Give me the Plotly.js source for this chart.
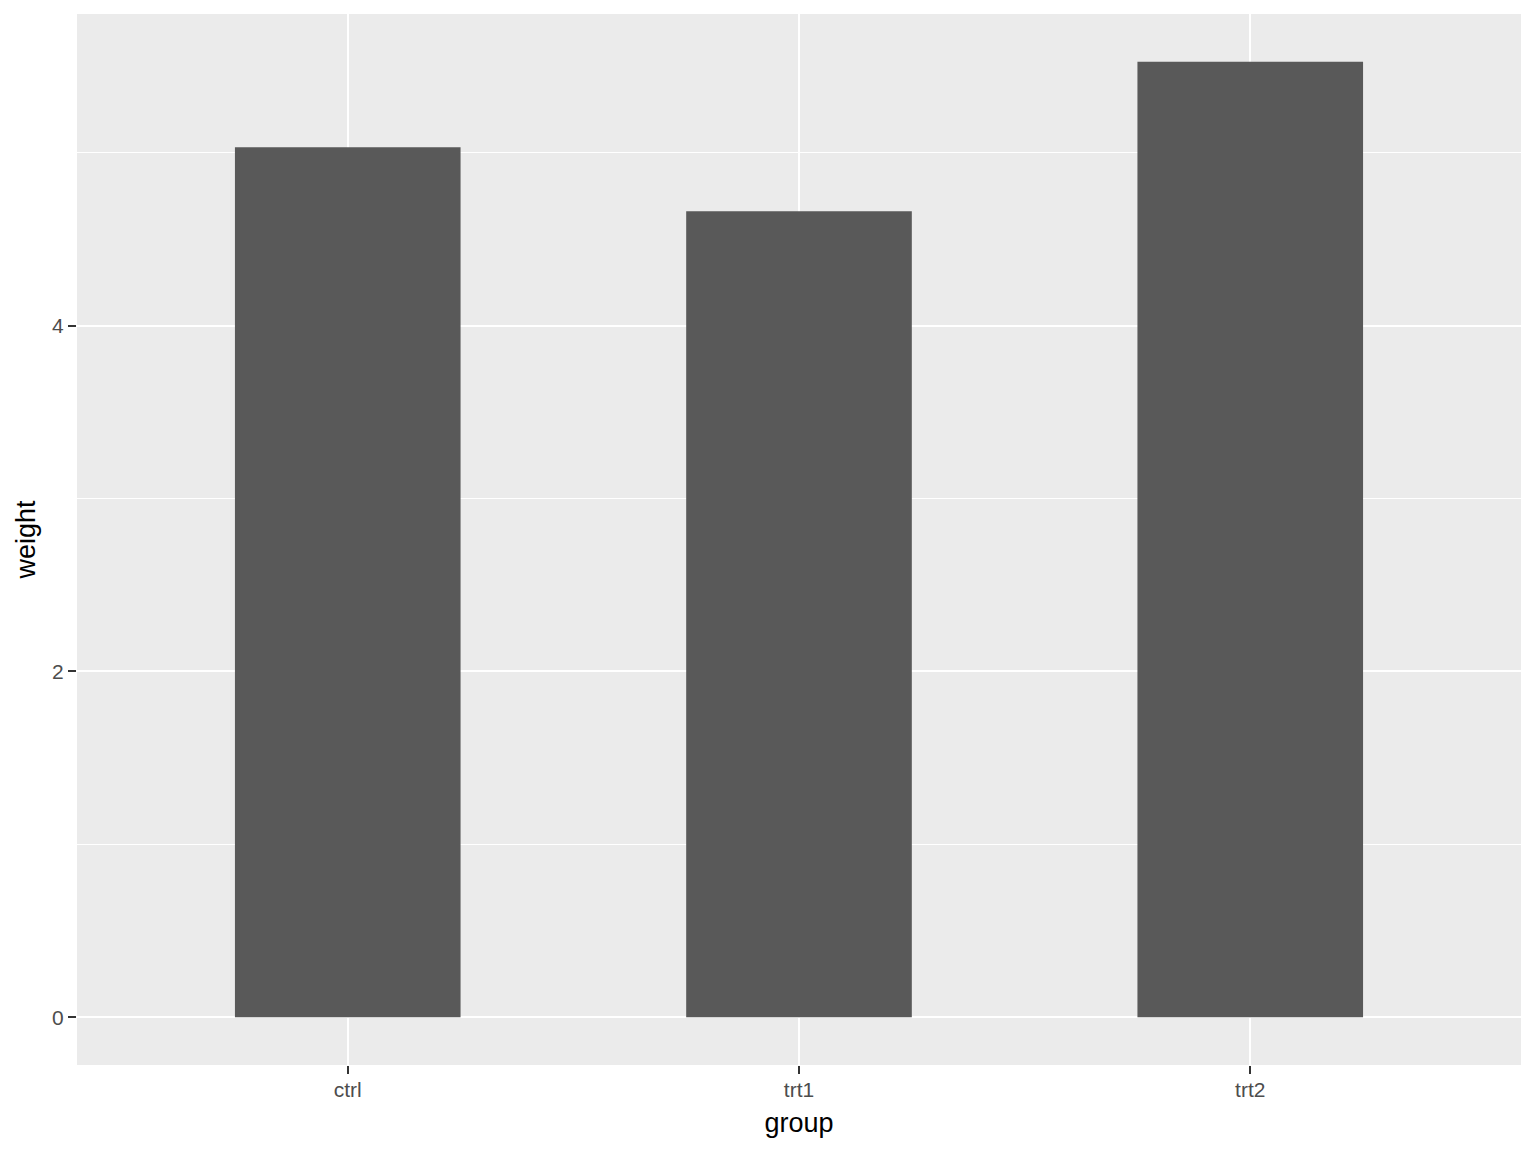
<!DOCTYPE html>
<html>
<head>
<meta charset="utf-8">
<script src="https://cdn.plot.ly/plotly-3.0.1.min.js"></script>
<style>html,body{margin:0;padding:0;background:#fff;}#chart{width:1536px;height:1152px;}</style>
</head>
<body>
<div id="chart"></div>
<script>
const groups = ["ctrl", "trt1", "trt2"];
const weights = [5.032, 4.661, 5.526];
const yTicks = [0, 2, 4];

const trace = {
  type: "bar",
  x: groups,
  y: weights,
  width: 0.5,
  marker: { color: "#595959", line: { width: 0 } },
  hoverinfo: "x+y"
};

const layout = {
  width: 1536,
  height: 1152,
  margin: { l: 77, r: 15, t: 14, b: 87 },
  paper_bgcolor: "#ffffff",
  plot_bgcolor: "#ebebeb",
  showlegend: false,
  font: { family: "Liberation Sans, Arial, sans-serif" },
  xaxis: {
    type: "category",
    range: [-0.6, 2.6],
    showgrid: true,
    gridcolor: "#ffffff",
    gridwidth: 2,
    zeroline: false,
    showline: false,
    ticks: "outside",
    ticklen: 8,
    tickwidth: 2,
    tickcolor: "#333333",
    ticklabelstandoff: -2,
    tickfont: { size: 21, color: "#4d4d4d" },
    title: { text: "group", font: { size: 27, color: "#000000" }, standoff: 12 }
  },
  yaxis: {
    range: [-0.2763, 5.8023],
    tickvals: yTicks,
    ticktext: yTicks.map(String),
    showgrid: true,
    gridcolor: "#ffffff",
    gridwidth: 2,
    zeroline: false,
    showline: false,
    ticks: "outside",
    ticklen: 8,
    tickwidth: 2,
    tickcolor: "#333333",
    tickfont: { size: 21, color: "#4d4d4d" },
    minor: { tickvals: [1, 3, 5], showgrid: true, gridcolor: "#ffffff", gridwidth: 1, ticks: "" },
    title: { text: "weight", font: { size: 27, color: "#000000" }, standoff: 8 }
  },
  bargap: 0.5
};

Plotly.newPlot("chart", [trace], layout, { displayModeBar: false, staticPlot: true });
</script>
</body>
</html>
